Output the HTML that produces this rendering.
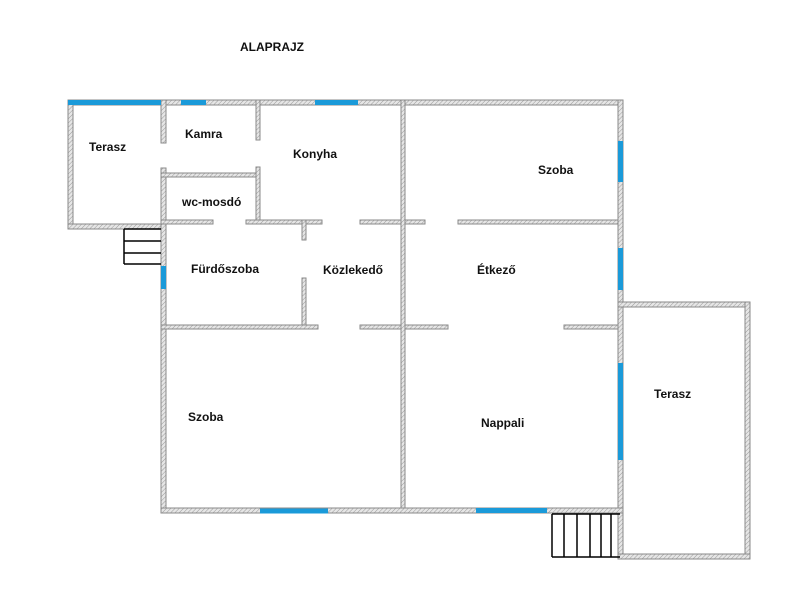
<!DOCTYPE html>
<html><head><meta charset="utf-8"><style>
html,body{margin:0;padding:0;background:#fff;}
svg{display:block;}
text{font-family:"Liberation Sans",sans-serif;font-weight:bold;font-size:12px;fill:#111;}
</style></head><body>
<svg width="800" height="607" viewBox="0 0 800 607" xmlns="http://www.w3.org/2000/svg">
<defs>
<pattern id="h" width="3" height="3" patternUnits="userSpaceOnUse" patternTransform="rotate(45)">
<rect width="3" height="3" fill="#e6e6e6"/><line x1="0" y1="0" x2="0" y2="3" stroke="#9a9a9a" stroke-width="1"/>
</pattern>
</defs>
<g fill="url(#h)" stroke="#8a8a8a" stroke-width="1">
<!-- top wall -->
<rect x="68" y="100" width="555" height="5"/>
<!-- left terrace -->
<rect x="68" y="100" width="5" height="129"/>
<rect x="68" y="224" width="96" height="5"/>
<!-- x=163 wall -->
<rect x="161" y="100" width="5" height="43"/>
<rect x="161" y="168" width="5" height="345"/>
<!-- kamra/wc -->
<rect x="161" y="173" width="98" height="4"/>
<rect x="256" y="100" width="4" height="40"/>
<rect x="256" y="167" width="4" height="56"/>
<!-- y=222 -->
<rect x="161" y="220" width="52" height="4"/>
<rect x="246" y="220" width="76" height="4"/>
<rect x="360" y="220" width="65" height="4"/>
<rect x="458" y="220" width="164" height="4"/>
<!-- x=304 -->
<rect x="302" y="220" width="4" height="20"/>
<rect x="302" y="278" width="4" height="50"/>
<!-- y=327 -->
<rect x="161" y="325" width="157" height="4"/>
<rect x="360" y="325" width="88" height="4"/>
<rect x="564" y="325" width="58" height="4"/>
<!-- x=403 -->
<rect x="401" y="100" width="4" height="412"/>
<!-- right wall -->
<rect x="618" y="100" width="5" height="459"/>
<!-- bottom -->
<rect x="161" y="508" width="462" height="5"/>
<!-- right terrace -->
<rect x="618" y="302" width="132" height="5"/>
<rect x="745" y="302" width="5" height="257"/>
<rect x="618" y="554" width="132" height="5"/>
</g>
<g stroke="#1a9ad9" stroke-width="5" stroke-linecap="butt">
<line x1="68" y1="102.5" x2="161" y2="102.5"/>
<line x1="181" y1="102.5" x2="206" y2="102.5"/>
<line x1="315" y1="102.5" x2="358" y2="102.5"/>
<line x1="163.5" y1="266" x2="163.5" y2="289"/>
<line x1="620.5" y1="141" x2="620.5" y2="182"/>
<line x1="620.5" y1="248" x2="620.5" y2="290"/>
<line x1="620.5" y1="363" x2="620.5" y2="460"/>
<line x1="260" y1="511" x2="328" y2="511"/>
<line x1="476" y1="510.5" x2="547" y2="510.5"/>
</g>
<g stroke="#000" stroke-width="1.5" fill="none">
<line x1="124" y1="229" x2="124" y2="264"/>
<line x1="124" y1="241" x2="161" y2="241"/>
<line x1="124" y1="253" x2="161" y2="253"/>
<line x1="124" y1="264" x2="161" y2="264"/>
<line x1="124" y1="229" x2="161" y2="229"/>
<line x1="552" y1="557" x2="620" y2="557"/>
<line x1="552" y1="514" x2="620" y2="514"/>
<line x1="552" y1="514" x2="552" y2="557"/>
<line x1="564" y1="514" x2="564" y2="557"/>
<line x1="577" y1="514" x2="577" y2="557"/>
<line x1="590" y1="514" x2="590" y2="557"/>
<line x1="601" y1="514" x2="601" y2="557"/>
<line x1="611" y1="514" x2="611" y2="557"/>
</g>
<text x="240" y="51">ALAPRAJZ</text>
<text x="89" y="151">Terasz</text>
<text x="185" y="138">Kamra</text>
<text x="293" y="158">Konyha</text>
<text x="182" y="206">wc-mosdó</text>
<text x="191" y="273">Fürdőszoba</text>
<text x="323" y="274">Közlekedő</text>
<text x="538" y="174">Szoba</text>
<text x="477" y="274">Étkező</text>
<text x="188" y="421">Szoba</text>
<text x="481" y="427">Nappali</text>
<text x="654" y="398">Terasz</text>
</svg>
</body></html>
